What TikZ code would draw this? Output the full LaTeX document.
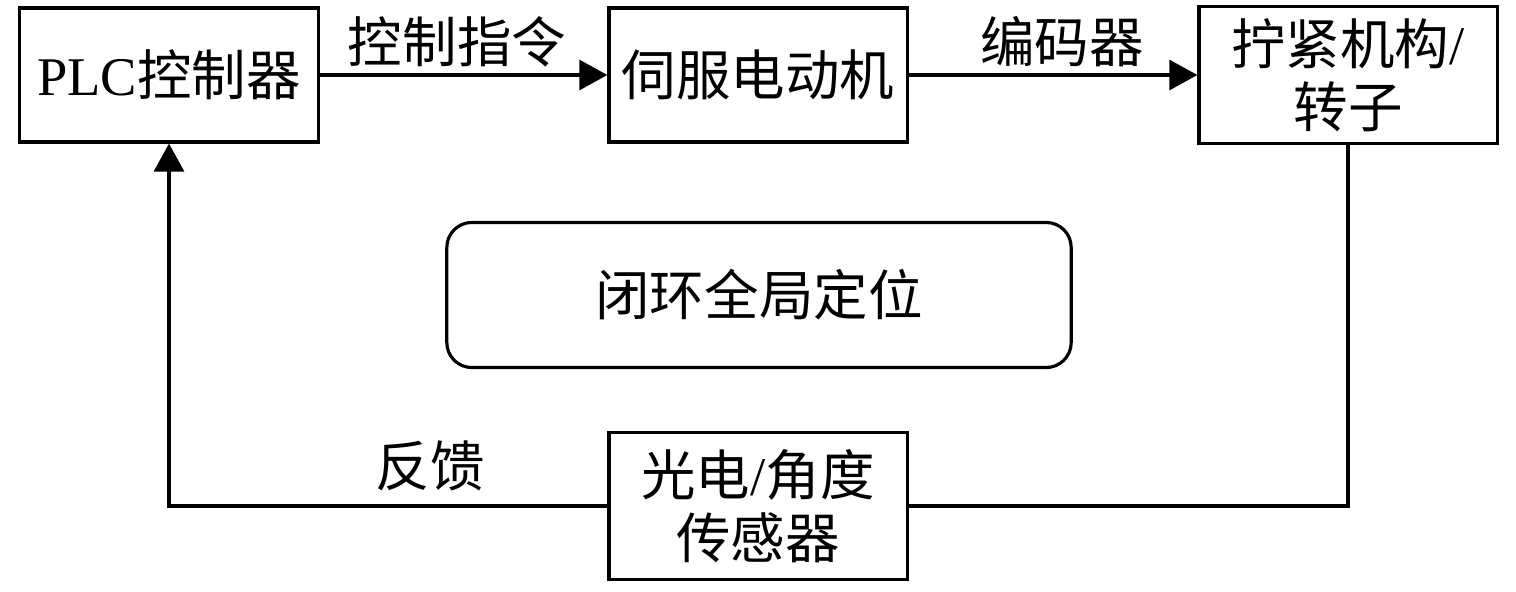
\documentclass[tikz,border=0pt]{standalone}
\usepackage{fontspec}
\setmainfont{Liberation Serif}
\newfontfamily\cjk{Noto Sans CJK SC}
\usetikzlibrary{arrows.meta}
\begin{document}
\begin{tikzpicture}[x=0.01cm,y=-0.01cm,line width=0.9pt,
  >={Triangle[length=0.28cm,width=0.3cm]},
  box/.style={draw,minimum width=2.98cm,minimum height=1.34cm,align=center,
    font=\fontsize{15.5}{18}\selectfont\cjk},
  lbl/.style={font=\fontsize{15.5}{18}\selectfont\cjk}]
\useasboundingbox (0,0) rectangle (1516,591);
\node[box](plc) at (169,75) {{\rmfamily PLC}控制器};
\node[box](servo) at (758,75) {伺服电动机};
\node[box](rotor) at (1348,75) {拧紧机构{\rmfamily /}\\转子};
\node[box,minimum height=1.47cm](sensor) at (758,506) {光电{\rmfamily /}角度\\传感器};
\node[box,rounded corners=0.25cm,minimum width=6.24cm,minimum height=1.45cm](loop) at (759,295) {闭环全局定位};
% labels
\node[lbl](cmd) at (457,42) {控制指令};
\node[lbl](enc) at (1062,42) {编码器};
\node[lbl](fb) at (430,466) {反馈};
% connectors
\draw[->] (plc) -- (servo);
\draw[->] (servo) -- (rotor);
\draw (rotor.south) |- (sensor.east);
\draw[->] (sensor.west) -| (plc.south);
\end{tikzpicture}
\end{document}
